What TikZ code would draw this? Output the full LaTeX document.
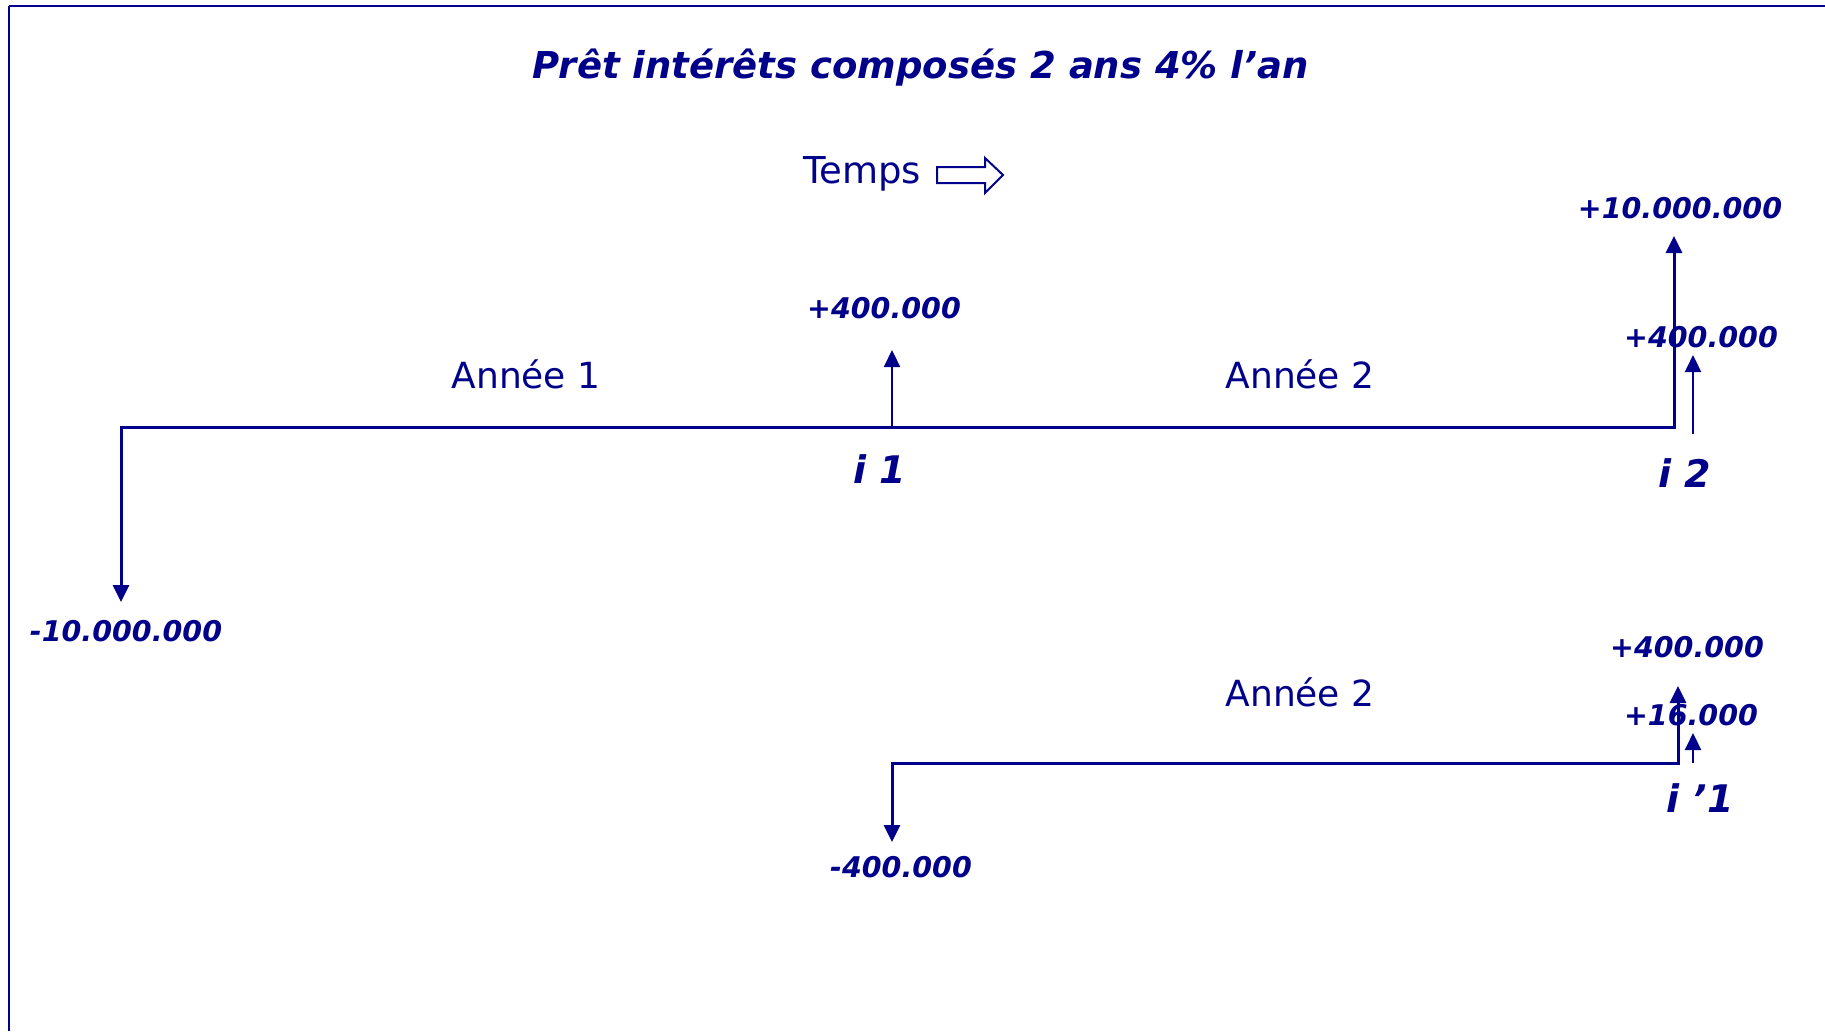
\documentclass[tikz,border=0pt]{standalone}
\usepackage{fontspec}
\setmainfont{DejaVu Sans}
\usepackage{tikz}
\usetikzlibrary{arrows.meta}
\definecolor{bleu}{RGB}{0,0,139}

\begin{document}
\begin{tikzpicture}[x=1pt, y=-1pt, >={Triangle[length=17pt, width=16pt]}, bleu,
    titre/.style={anchor=base, font=\bfseries\itshape\fontsize{37}{37}\selectfont},
    montant/.style={anchor=base, font=\bfseries\itshape\fontsize{28.5}{28.5}\selectfont},
    echeance/.style={anchor=base, font=\bfseries\itshape\fontsize{38}{38}\selectfont},
    periode/.style={anchor=base, font=\fontsize{36}{36}\selectfont},
    axe/.style={line width=3pt},
    flux/.style={->, line width=2.2pt}]
    \useasboundingbox (0,0) rectangle (1825,1031);

    % cadre
    \draw[line width=2pt] (9,6) -- (1825,6);
    \draw[line width=1.5pt] (9,6) -- (9,1031);

    \node[titre] (titre) at (921,78) {Prêt intérêts composés 2 ans 4\% l'an};
    \node[periode, font=\fontsize{37}{37}\selectfont] (temps) at (862,183) {Temps};
    \draw[line width=2pt, fill=white] (937,167) -- (985,167) -- (985,158) -- (1003,175)
        -- (985,193) -- (985,183) -- (937,183) -- cycle;

    % points de l'echeancier
    \coordinate (t0) at (121,427);
    \coordinate (t1) at (892,427);
    \coordinate (t2) at (1674,427);
    \coordinate (t0bas) at (121,602);
    \coordinate (t1haut) at (892,350);
    \coordinate (t2haut) at (1674,236);
    \coordinate (i2) at (1693,434);
    \coordinate (i2haut) at (1693,355);

    \coordinate (u1) at (1678,763);
    \coordinate (u0bas) at (892,842);
    \coordinate (u1haut) at (1678,686);
    \coordinate (j1) at (1693,763);
    \coordinate (j1haut) at (1693,733);

    % premier pret
    \draw[axe, <->] (t2haut) -- (t2) -| (t0bas);
    \draw[flux] (t1) -- (t1haut);
    \draw[flux] (i2) -- (i2haut);

    \node[periode] (an1) at (526,388) {Année 1};
    \node[periode] (an2) at (1300,388) {Année 2};
    \node[montant] (capital) at (126,641) {-10.000.000};
    \node[montant] (int1) at (884,318) {+400.000};
    \node[echeance] (e1) at (880,483) {i 1};
    \node[montant] (remb) at (1680,218) {+10.000.000};
    \node[montant] (int2) at (1701,347) {+400.000};
    \node[echeance] (e2) at (1685,487) {i 2};

    % replacement des interets
    \draw[axe, <->] (u1haut) -- (u1) -| (u0bas);
    \draw[flux] (j1) -- (j1haut);

    \node[periode] (an2b) at (1300,706) {Année 2};
    \node[montant] (place) at (901,877) {-400.000};
    \node[montant] (int1b) at (1687,657) {+400.000};
    \node[montant] (int1c) at (1691,725) {+16.000};
    \node[echeance] (e1b) at (1700,812) {i '1};
\end{tikzpicture}
\end{document}
